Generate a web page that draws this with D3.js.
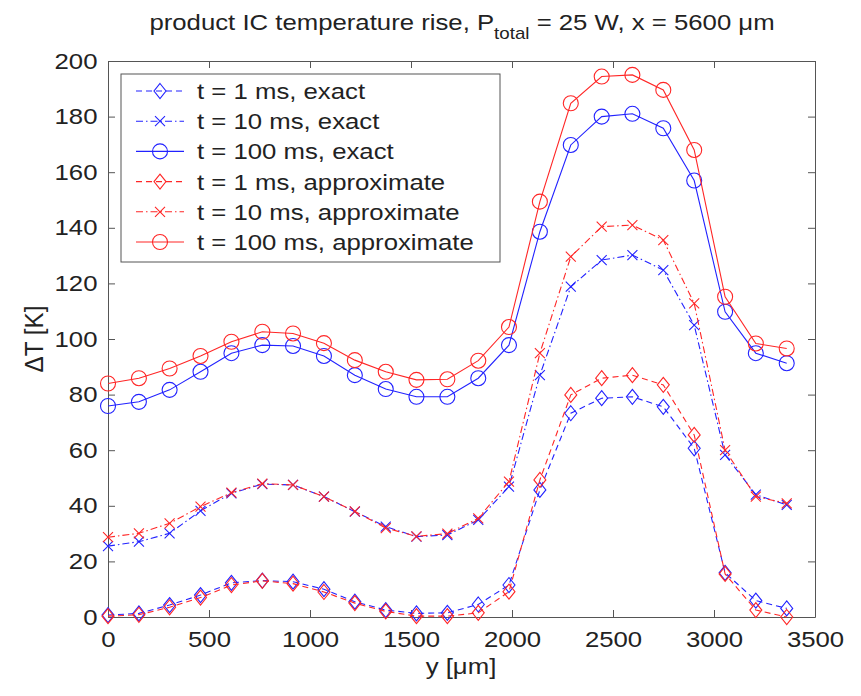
<!DOCTYPE html>
<html>
<head>
<meta charset="utf-8">
<script src="https://cdn.jsdelivr.net/npm/d3@7"></script>
<style>
  body { margin: 0; background: #fff; }
  text { font-family: "Liberation Sans", Arial, sans-serif; fill: #222; }
</style>
</head>
<body>
<div id="chart"></div>
<script>
// chart data
const yPositions = [0, 153, 305, 458, 611, 764, 916, 1069, 1222, 1375, 1527, 1680,
                    1833, 1985, 2138, 2291, 2444, 2596, 2749, 2902, 3055, 3207, 3360];
const exact1ms   = [0.7, 1.3, 4.3, 7.9, 12.3, 13.1, 12.7, 10, 5.5, 2.5, 1.3, 1.5,
                    4.5, 11.5, 45.7, 73.3, 78.7, 79.2, 75.6, 60.7, 15.9, 5.9, 3.1];
const exact10ms  = [25.5, 27.1, 30.1, 38.2, 44.5, 47.8, 47.5, 43.3, 37.9, 32.5, 28.9, 29.5,
                    34.9, 46.9, 87, 118.8, 128.4, 130.2, 124.8, 105, 58.3, 44, 40.3];
const exact100ms = [75.9, 77.4, 81.7, 88.2, 94.9, 97.8, 97.5, 93.9, 87, 82, 79.2, 79.2,
                    85.9, 97.8, 138.6, 169.8, 180, 181, 175.8, 157, 109.8, 94.9, 91.3];
const approx1ms  = [0.3, 0.8, 3.5, 7, 11.5, 13, 12, 9, 5, 2, 0.3, 0.3,
                    1.5, 9.1, 49.3, 79.9, 85.9, 87, 83.5, 65.5, 15.5, 2.5, 0];
const approx10ms = [28.7, 30.1, 33.7, 39.7, 44.7, 48, 47.5, 43.3, 38, 32, 29, 30,
                    35.5, 48.7, 94.9, 129.6, 140.4, 141, 135.6, 112.8, 60, 43.3, 40.9];
const approx100ms= [84, 85.9, 89.4, 93.9, 99, 102.6, 102, 98.5, 92.4, 88.2, 85.3, 85.5,
                    92.2, 104.3, 149.4, 184.8, 194.4, 195, 189.6, 168, 115.2, 98.4, 96.6];
const seriesLabels = ["t = 1 ms, exact", "t = 10 ms, exact", "t = 100 ms, exact",
                      "t = 1 ms, approximate", "t = 10 ms, approximate", "t = 100 ms, approximate"];
const xTicks = [0, 500, 1000, 1500, 2000, 2500, 3000, 3500];
const yTicks = [0, 20, 40, 60, 80, 100, 120, 140, 160, 180, 200];

const width = 861, height = 696;
const margin = {left: 108, right: 46, top: 61, bottom: 79};
const plotW = width - margin.left - margin.right;
const plotH = height - margin.top - margin.bottom;
const stretch = "scale(1.17,1)";  // the picture's text is a bit wide

const blue = "#2222ff", red = "#ff2626";
const styles = [
  {color: blue, dash: "6,4", marker: "diamond"},
  {color: blue, dash: "7,3,1.5,3", marker: "x"},
  {color: blue, dash: null, marker: "circle"},
  {color: red, dash: "6,4", marker: "diamond"},
  {color: red, dash: "7,3,1.5,3", marker: "x"},
  {color: red, dash: null, marker: "circle"}
];
const allSeries = [exact1ms, exact10ms, exact100ms, approx1ms, approx10ms, approx100ms];

const svg = d3.select("#chart").append("svg")
  .attr("width", width).attr("height", height);

const x = d3.scaleLinear().domain([0, 3500]).range([margin.left, margin.left + plotW]);
const y = d3.scaleLinear().domain([0, 200]).range([margin.top + plotH, margin.top]);

// axes, ticks pointing inward like matlab
const axisColor = "#555";
const fmt = d3.format("d");
function styleAxis(g) {
  g.selectAll("path, line").attr("stroke", axisColor);
  g.selectAll("text").attr("font-size", 22).attr("fill", "#222")
    .attr("transform", stretch);
}
svg.append("g")
  .attr("transform", "translate(0," + (margin.top + plotH) + ")")
  .call(d3.axisBottom(x).tickValues(xTicks).tickFormat(fmt)
    .tickSizeInner(-7).tickSizeOuter(0).tickPadding(14))
  .call(styleAxis);
svg.append("g")
  .attr("transform", "translate(" + margin.left + ",0)")
  .call(d3.axisLeft(y).tickValues(yTicks).tickFormat(fmt)
    .tickSizeInner(-7).tickSizeOuter(0).tickPadding(9))
  .call(styleAxis);
svg.append("g")
  .attr("transform", "translate(0," + margin.top + ")")
  .call(d3.axisTop(x).tickValues(xTicks).tickSizeInner(-7).tickSizeOuter(0).tickFormat(""))
  .call(styleAxis);
svg.append("g")
  .attr("transform", "translate(" + (margin.left + plotW) + ",0)")
  .call(d3.axisRight(y).tickValues(yTicks).tickSizeInner(-7).tickSizeOuter(0).tickFormat(""))
  .call(styleAxis);

// markers
function drawMarker(g, kind, color) {
  if (kind === "circle") {
    g.append("circle").attr("r", 7.5);
  } else if (kind === "diamond") {
    g.append("path").attr("d", "M0,-7.5L6,0L0,7.5L-6,0Z");
  } else {
    g.append("path").attr("d", "M-5,-5L5,5M-5,5L5,-5");
  }
  g.selectAll("circle, path").attr("fill", "none").attr("stroke", color).attr("stroke-width", 1.1);
}

const line = d3.line().x((d, i) => x(yPositions[i])).y(d => y(d));

allSeries.forEach((vals, k) => {
  const st = styles[k];
  const g = svg.append("g");
  g.append("path")
    .attr("d", line(vals))
    .attr("fill", "none")
    .attr("stroke", st.color)
    .attr("stroke-width", 1.1)
    .attr("stroke-dasharray", st.dash);
  g.selectAll(".m").data(vals).enter().append("g")
    .attr("transform", (d, i) => "translate(" + x(yPositions[i]) + "," + y(d) + ")")
    .each(function() { drawMarker(d3.select(this), st.marker, st.color); });
});

// legend
const legend = svg.append("g");
legend.append("rect")
  .attr("x", 121).attr("y", 74).attr("width", 379).attr("height", 188)
  .attr("fill", "#fff").attr("stroke", axisColor).attr("stroke-width", 1);
seriesLabels.forEach((lab, k) => {
  const st = styles[k];
  const ly = 91 + k * 30.2;
  legend.append("line")
    .attr("x1", 136).attr("x2", 184).attr("y1", ly).attr("y2", ly)
    .attr("stroke", st.color).attr("stroke-width", 1.1)
    .attr("stroke-dasharray", st.dash);
  drawMarker(legend.append("g").attr("transform", "translate(160," + ly + ")"), st.marker, st.color);
  legend.append("text")
    .attr("transform", "translate(197," + (ly + 8) + ") " + stretch)
    .attr("font-size", 22)
    .text(lab);
});

// title with subscript
const title = svg.append("text")
  .attr("transform", "translate(462,30) " + stretch)
  .attr("text-anchor", "middle")
  .attr("font-size", 22);
title.append("tspan").text("product IC temperature rise, P");
title.append("tspan").attr("dy", 9).attr("font-size", 16).text("total");
title.append("tspan").attr("dy", -9).text(" = 25 W, x = 5600 \u03bcm");

// axis labels
svg.append("text")
  .attr("transform", "translate(461,674) " + stretch)
  .attr("text-anchor", "middle")
  .attr("font-size", 22)
  .text("y [\u03bcm]");
svg.append("text")
  .attr("transform", "translate(43,339) rotate(-90) scale(1.1,1.17)")
  .attr("text-anchor", "middle")
  .attr("font-size", 22)
  .text("\u0394T [K]");
</script>
</body>
</html>
